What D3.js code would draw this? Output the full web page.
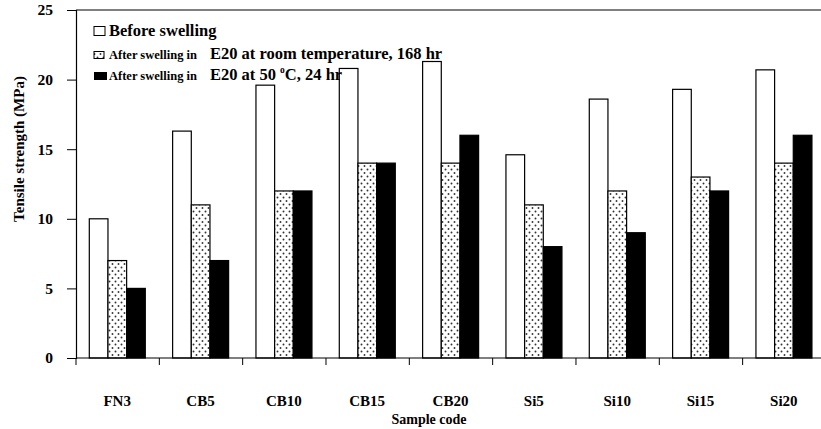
<!DOCTYPE html>
<html>
<head>
<meta charset="utf-8">
<script src="https://cdn.jsdelivr.net/npm/d3@7"></script>
<style>
  body { margin: 0; background: #fff; }
  svg text { font-family: "Liberation Serif", "DejaVu Serif", serif; font-weight: bold; fill: #000; }
</style>
</head>
<body>
<script>
// sample codes and tensile strength (MPa) per condition
const samples = ['FN3', 'CB5', 'CB10', 'CB15', 'CB20', 'Si5', 'Si10', 'Si15', 'Si20']
const before = [10, 16.3, 19.6, 20.8, 21.3, 14.6, 18.6, 19.3, 20.7]
const afterRoom = [7, 11, 12, 14, 14, 11, 12, 13, 14]
const after50 = [5, 7, 12, 14, 16, 8, 9, 12, 16]
const yTicks = [0, 5, 10, 15, 20, 25]

const series = [
  { key: 'before', values: before, fill: '#fff' },
  { key: 'room', values: afterRoom, fill: 'url(#dots)' },
  { key: 'hot', values: after50, fill: '#000' }
]

const W = 821, H = 429
const plotLeft = 76, plotTop = 10, plotBottom = 358
const band = 83.33

const svg = d3.select('body').append('svg')
  .attr('width', W)
  .attr('height', H)

// dotted fill for the room-temperature series
const pat = svg.append('defs').append('pattern')
  .attr('id', 'dots')
  .attr('patternUnits', 'userSpaceOnUse')
  .attr('width', 6)
  .attr('height', 7)
pat.append('rect').attr('width', 6).attr('height', 7).attr('fill', '#fff')
pat.append('circle').attr('cx', 1.5).attr('cy', 1.5).attr('r', 0.95).attr('fill', '#333')
pat.append('circle').attr('cx', 4.5).attr('cy', 5).attr('r', 0.95).attr('fill', '#333')

const x = d3.scaleBand()
  .domain(samples)
  .range([plotLeft, plotLeft + band * samples.length])
  .padding(0)

const xSub = d3.scaleBand()
  .domain(series.map(s => s.key))
  .range([13.3, 69.3])
  .padding(0)

const y = d3.scaleLinear()
  .domain([0, 25])
  .range([plotBottom, plotTop])

// top frame line
svg.append('line')
  .attr('x1', plotLeft).attr('x2', W)
  .attr('y1', plotTop).attr('y2', plotTop)
  .attr('stroke', '#555').attr('stroke-width', 1.5)

// bars
series.forEach(s => {
  svg.append('g')
    .selectAll('rect')
    .data(samples)
    .enter().append('rect')
    .attr('x', (d, i) => x(d) + xSub(s.key))
    .attr('y', (d, i) => y(s.values[i]))
    .attr('width', xSub.bandwidth())
    .attr('height', (d, i) => y(0) - y(s.values[i]))
    .attr('fill', s.fill)
    .attr('stroke', '#000')
    .attr('stroke-width', 1.2)
})

// y axis
const yAxis = svg.append('g')
  .attr('transform', `translate(${plotLeft},0)`)
  .call(d3.axisLeft(y).tickValues(yTicks).tickSize(9).tickPadding(14).tickFormat(d3.format('d')))
yAxis.select('.domain').attr('stroke', '#000').attr('stroke-width', 1.2)
yAxis.selectAll('.tick line').attr('stroke', '#000').attr('stroke-width', 1)
yAxis.selectAll('.tick text')
  .attr('font-size', 15.5)

// x axis: tick marks between groups
const xAxis = svg.append('g')
  .attr('transform', `translate(0,${plotBottom})`)
xAxis.append('line')
  .attr('x1', plotLeft).attr('x2', W)
  .attr('stroke', '#000').attr('stroke-width', 1.2)
xAxis.selectAll('.xt')
  .data(samples)
  .enter().append('line')
  .attr('x1', d => x(d)).attr('x2', d => x(d))
  .attr('y1', 0).attr('y2', 7)
  .attr('stroke', '#000')

svg.append('g')
  .selectAll('text')
  .data(samples)
  .enter().append('text')
  .attr('x', d => x(d) + band / 2 - 0.5)
  .attr('y', 406)
  .attr('text-anchor', 'middle')
  .attr('font-size', 15)
  .text(d => d)

svg.append('text')
  .attr('x', 429)
  .attr('y', 424)
  .attr('text-anchor', 'middle')
  .attr('font-size', 14)
  .text('Sample code')

svg.append('text')
  .attr('transform', 'translate(24,149) rotate(-90)')
  .attr('text-anchor', 'middle')
  .attr('font-size', 15)
  .text('Tensile strength (MPa)')

// legend
const legend = svg.append('g')
legend.append('rect').attr('x', 94).attr('y', 26.5).attr('width', 11).attr('height', 9)
  .attr('fill', '#fff').attr('stroke', '#000').attr('stroke-width', 1)
legend.append('text').attr('x', 109).attr('y', 36).attr('font-size', 16.5).text('Before swelling')

legend.append('rect').attr('x', 94).attr('y', 51.5).attr('width', 10).attr('height', 7)
  .attr('fill', 'url(#dots)').attr('stroke', '#000').attr('stroke-width', 1)
const t2 = legend.append('text').attr('x', 109).attr('y', 59)
t2.append('tspan').attr('font-size', 12.5).text('After swelling in')
t2.append('tspan').attr('font-size', 16.5).attr('dx', 13).text('E20 at room temperature, 168 hr')

legend.append('rect').attr('x', 94).attr('y', 72).attr('width', 13).attr('height', 8)
  .attr('fill', '#000')
const t3 = legend.append('text').attr('x', 109).attr('y', 80)
t3.append('tspan').attr('font-size', 12.5).text('After swelling in')
t3.append('tspan').attr('font-size', 16.5).attr('dx', 13).text('E20 at 50 ')
t3.append('tspan').attr('font-size', 9.5).attr('dy', -7).text('o')
t3.append('tspan').attr('font-size', 16.5).attr('dy', 7).text('C, 24 hr')
</script>
</body>
</html>
